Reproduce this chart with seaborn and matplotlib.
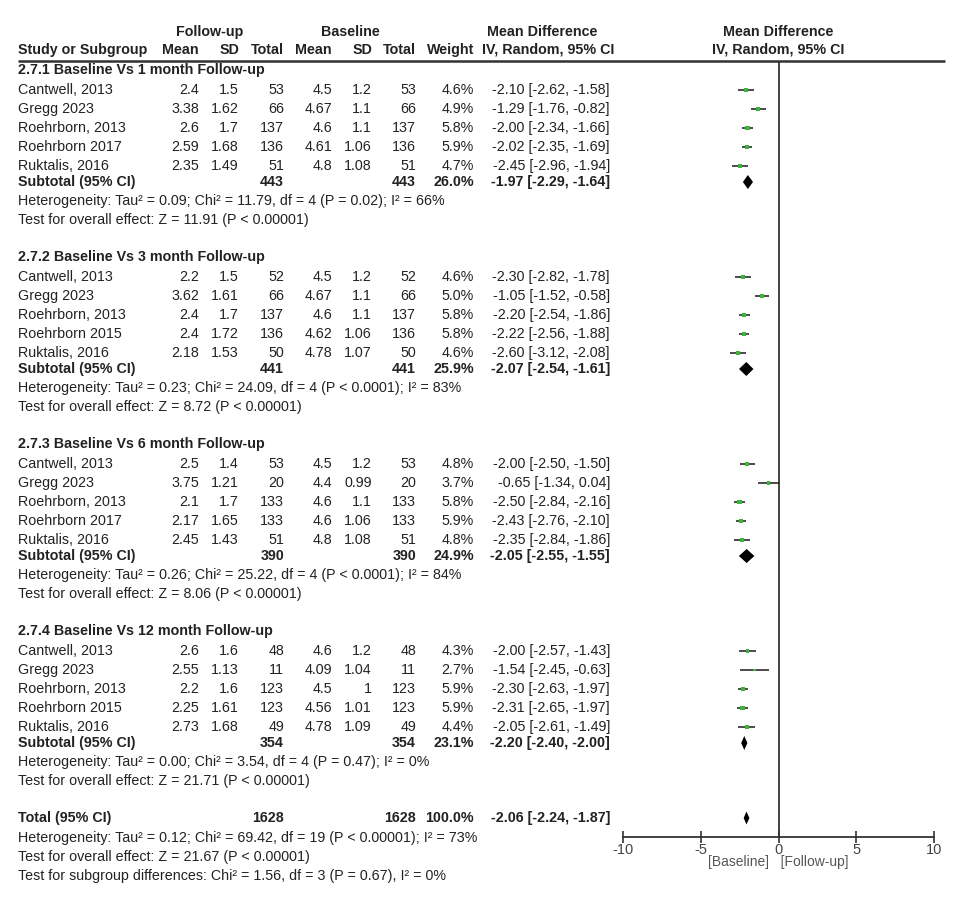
"""
Forest plot: follow-up vs baseline, mean difference (IV, Random, 95% CI)
"""
import numpy as np
import pandas as pd
import matplotlib
matplotlib.use('Agg')
import matplotlib.pyplot as plt
import seaborn as sns

sns.set_theme(style='white')
plt.rcParams['font.family'] = ['Liberation Sans', 'DejaVu Sans']

# ---- data ----
group_titles = ['2.7.1 Baseline Vs 1 month Follow-up',
                '2.7.2 Baseline Vs 3 month Follow-up',
                '2.7.3 Baseline Vs 6 month Follow-up',
                '2.7.4 Baseline Vs 12 month Follow-up']

studies = ['Cantwell, 2013', 'Gregg 2023', 'Roehrborn, 2013', 'Roehrborn 2017', 'Ruktalis, 2016',
           'Cantwell, 2013', 'Gregg 2023', 'Roehrborn, 2013', 'Roehrborn 2015', 'Ruktalis, 2016',
           'Cantwell, 2013', 'Gregg 2023', 'Roehrborn, 2013', 'Roehrborn 2017', 'Ruktalis, 2016',
           'Cantwell, 2013', 'Gregg 2023', 'Roehrborn, 2013', 'Roehrborn 2015', 'Ruktalis, 2016']
group_of = [0]*5 + [1]*5 + [2]*5 + [3]*5

fu_mean = [2.4, 3.38, 2.6, 2.59, 2.35,  2.2, 3.62, 2.4, 2.4, 2.18,
           2.5, 3.75, 2.1, 2.17, 2.45,  2.6, 2.55, 2.2, 2.25, 2.73]
fu_sd = [1.5, 1.62, 1.7, 1.68, 1.49,  1.5, 1.61, 1.7, 1.72, 1.53,
         1.4, 1.21, 1.7, 1.65, 1.43,  1.6, 1.13, 1.6, 1.61, 1.68]
fu_n = [53, 66, 137, 136, 51,  52, 66, 137, 136, 50,
        53, 20, 133, 133, 51,  48, 11, 123, 123, 49]
bl_mean = [4.5, 4.67, 4.6, 4.61, 4.8,  4.5, 4.67, 4.6, 4.62, 4.78,
           4.5, 4.4, 4.6, 4.6, 4.8,  4.6, 4.09, 4.5, 4.56, 4.78]
bl_sd = [1.2, 1.1, 1.1, 1.06, 1.08,  1.2, 1.1, 1.1, 1.06, 1.07,
         1.2, 0.99, 1.1, 1.06, 1.08,  1.2, 1.04, 1, 1.01, 1.09]
bl_n = fu_n
weight = [4.6, 4.9, 5.8, 5.9, 4.7,  4.6, 5.0, 5.8, 5.8, 4.6,
          4.8, 3.7, 5.8, 5.9, 4.8,  4.3, 2.7, 5.9, 5.9, 4.4]
md = [-2.10, -1.29, -2.00, -2.02, -2.45,  -2.30, -1.05, -2.20, -2.22, -2.60,
      -2.00, -0.65, -2.50, -2.43, -2.35,  -2.00, -1.54, -2.30, -2.31, -2.05]
md_lo = [-2.62, -1.76, -2.34, -2.35, -2.96,  -2.82, -1.52, -2.54, -2.56, -3.12,
         -2.50, -1.34, -2.84, -2.76, -2.84,  -2.57, -2.45, -2.63, -2.65, -2.61]
md_hi = [-1.58, -0.82, -1.66, -1.69, -1.94,  -1.78, -0.58, -1.86, -1.88, -2.08,
         -1.50, 0.04, -2.16, -2.10, -1.86,  -1.43, -0.63, -1.97, -1.97, -1.49]

sub_n = [443, 441, 390, 354]
sub_weight = [26.0, 25.9, 24.9, 23.1]
sub_md = [-1.97, -2.07, -2.05, -2.20]
sub_lo = [-2.29, -2.54, -2.55, -2.40]
sub_hi = [-1.64, -1.61, -1.55, -2.00]
sub_het = ['Heterogeneity: Tau² = 0.09; Chi² = 11.79, df = 4 (P = 0.02); I² = 66%',
           'Heterogeneity: Tau² = 0.23; Chi² = 24.09, df = 4 (P < 0.0001); I² = 83%',
           'Heterogeneity: Tau² = 0.26; Chi² = 25.22, df = 4 (P < 0.0001); I² = 84%',
           'Heterogeneity: Tau² = 0.00; Chi² = 3.54, df = 4 (P = 0.47); I² = 0%']
sub_test = ['Test for overall effect: Z = 11.91 (P < 0.00001)',
            'Test for overall effect: Z = 8.72 (P < 0.00001)',
            'Test for overall effect: Z = 8.06 (P < 0.00001)',
            'Test for overall effect: Z = 21.71 (P < 0.00001)']

total_n = 1628
total_weight = 100.0
total_md, total_lo, total_hi = -2.06, -2.24, -1.87
total_notes = ['Heterogeneity: Tau² = 0.12; Chi² = 69.42, df = 19 (P < 0.00001); I² = 73%',
               'Test for overall effect: Z = 21.67 (P < 0.00001)',
               'Test for subgroup differences: Chi² = 1.56, df = 3 (P = 0.67), I² = 0%']

x_ticks = [-10, -5, 0, 5, 10]

# ---- layout (pixel rows) ----
W, H = 958, 917
TXT = '#222222'
FS = 10.3
group_top = [70 + 187 * g for g in range(4)]
row_in_group = [i % 5 for i in range(len(studies))]
study_y = [group_top[g] + 20 + 19 * r for g, r in zip(group_of, row_in_group)]
sub_y = [t + 112 for t in group_top]
total_y = group_top[-1] + 187

df = pd.DataFrame({'study': studies, 'y': study_y, 'md': md, 'lo': md_lo,
                   'hi': md_hi, 'weight': weight})

# columns: right edges in px
col_right = {'fu_mean': 199, 'fu_sd': 239, 'fu_n': 284,
             'bl_mean': 332, 'bl_sd': 372, 'bl_n': 416, 'weight': 474, 'md': 610}
x_name = 18

fig = plt.figure(figsize=(W / 100, H / 100), dpi=100)
tax = fig.add_axes([0, 0, 1, 1])
tax.set_xlim(0, W)
tax.set_ylim(H, 0)
tax.axis('off')


def txt(x, y, s, ha='left', bold=False, color=TXT, size=FS):
    tax.text(x, y, s, ha=ha, va='center', fontsize=size, color=color,
             fontweight='bold' if bold else 'normal')


def fmt_md(m, lo, hi):
    return f'{m:.2f} [{lo:.2f}, {hi:.2f}]'


# header
hy1, hy2 = 32, 50
txt(210, hy1, 'Follow-up', ha='center', bold=True)
txt(350, hy1, 'Baseline', ha='center', bold=True)
txt(542, hy1, 'Mean Difference', ha='center', bold=True)
txt(548, hy2, 'IV, Random, 95% CI', ha='center', bold=True)
txt(778, hy1, 'Mean Difference', ha='center', bold=True)
txt(778, hy2, 'IV, Random, 95% CI', ha='center', bold=True)
txt(x_name, hy2, 'Study or Subgroup', bold=True)
for key, lab in [('fu_mean', 'Mean'), ('fu_sd', 'SD'), ('fu_n', 'Total'),
                 ('bl_mean', 'Mean'), ('bl_sd', 'SD'), ('bl_n', 'Total'),
                 ('weight', 'Weight')]:
    txt(col_right[key], hy2, lab, ha='right', bold=True)
tax.plot([18, 945], [61, 61], color='#333333', lw=1.8, solid_capstyle='butt')

# study rows
for i in range(len(studies)):
    y = study_y[i]
    txt(x_name, y, studies[i])
    txt(col_right['fu_mean'], y, f'{fu_mean[i]:g}', ha='right')
    txt(col_right['fu_sd'], y, f'{fu_sd[i]:g}', ha='right')
    txt(col_right['fu_n'], y, f'{fu_n[i]}', ha='right')
    txt(col_right['bl_mean'], y, f'{bl_mean[i]:g}', ha='right')
    txt(col_right['bl_sd'], y, f'{bl_sd[i]:g}', ha='right')
    txt(col_right['bl_n'], y, f'{bl_n[i]}', ha='right')
    txt(col_right['weight'], y, f'{weight[i]:.1f}%', ha='right')
    txt(col_right['md'], y, fmt_md(md[i], md_lo[i], md_hi[i]), ha='right')

# group headings and subtotals
for g in range(4):
    txt(x_name, group_top[g], group_titles[g], bold=True)
    y = sub_y[g]
    txt(x_name, y, 'Subtotal (95% CI)', bold=True)
    txt(col_right['fu_n'], y, f'{sub_n[g]}', ha='right', bold=True)
    txt(col_right['bl_n'], y, f'{sub_n[g]}', ha='right', bold=True)
    txt(col_right['weight'], y, f'{sub_weight[g]:.1f}%', ha='right', bold=True)
    txt(col_right['md'], y, fmt_md(sub_md[g], sub_lo[g], sub_hi[g]), ha='right', bold=True)
    txt(x_name, y + 19, sub_het[g])
    txt(x_name, y + 38, sub_test[g])

# total
txt(x_name, total_y, 'Total (95% CI)', bold=True)
txt(col_right['fu_n'], total_y, f'{total_n}', ha='right', bold=True)
txt(col_right['bl_n'], total_y, f'{total_n}', ha='right', bold=True)
txt(col_right['weight'], total_y, f'{total_weight:.1f}%', ha='right', bold=True)
txt(col_right['md'], total_y, fmt_md(total_md, total_lo, total_hi), ha='right', bold=True)
for k, note in enumerate(total_notes):
    txt(x_name, total_y + 20 + 19 * k, note)

# ---- forest panel ----
ax_l, ax_r, ax_t, ax_b = 623, 934, 61, 837
ax = fig.add_axes([ax_l / W, (H - ax_b) / H, (ax_r - ax_l) / W, (ax_b - ax_t) / H])
ax.patch.set_alpha(0)
ax.set_xlim(-10, 10)
ax.set_ylim(ax_b, ax_t)

ax.axvline(0, color='#333333', lw=1.3, zorder=1)
ax.hlines(df['y'], df['lo'], df['hi'], color='#1a1a1a', lw=1.1, zorder=2)
sns.scatterplot(data=df, x='md', y='y', size='weight', sizes=(0, 6 * 1.7),
                size_norm=(0, 6), marker='s', color='#3cb43c', edgecolor='none',
                legend=False, ax=ax, zorder=3)


def diamond(m, lo, hi, y, h=7):
    ax.fill([lo, m, hi, m], [y, y - h, y, y + h], color='black', lw=0, zorder=3)


for g in range(4):
    diamond(sub_md[g], sub_lo[g], sub_hi[g], sub_y[g])
diamond(total_md, total_lo, total_hi, total_y, h=6.5)

for s in ['top', 'right', 'left']:
    ax.spines[s].set_visible(False)
ax.spines['bottom'].set_color('#333333')
ax.spines['bottom'].set_linewidth(1.3)
ax.set_xticks(x_ticks)
ax.set_xticklabels([f'{t}' for t in x_ticks])
ax.set_yticks([])
ax.tick_params(axis='x', direction='inout', length=8, width=1.2, color='#333333',
               labelsize=10.5, labelcolor='#444444', pad=0, bottom=True)
ax.set_xlabel('')
ax.set_ylabel('')
tax.text(778, 862, '[Baseline]   [Follow-up]', ha='center', va='center',
         fontsize=10, color='#555555')

fig.savefig('out.png', dpi=100)
